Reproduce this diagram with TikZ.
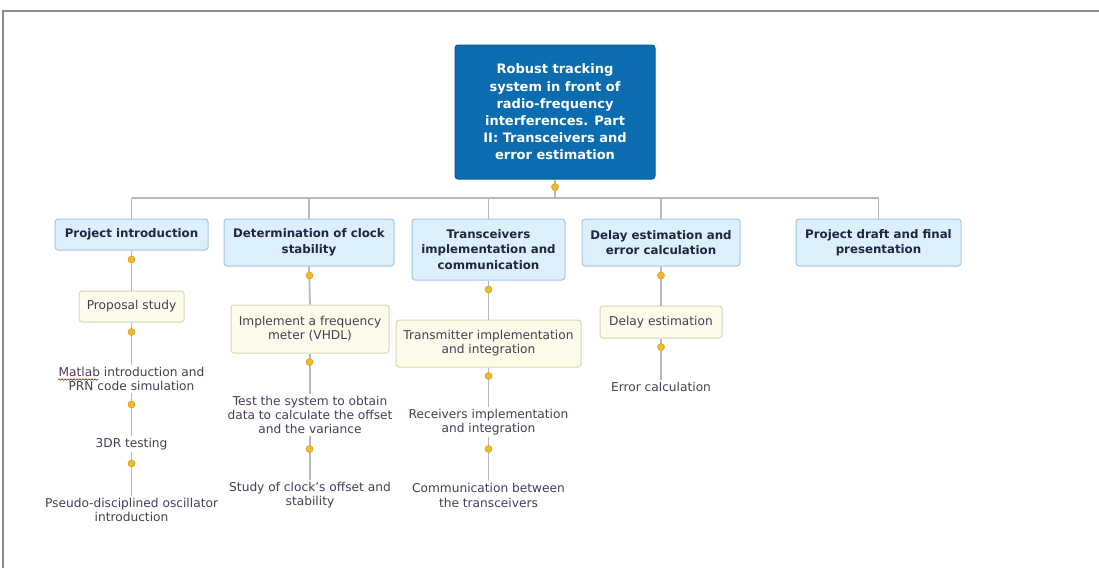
\documentclass[tikz,border=0pt]{standalone}
\usepackage{fontspec}
\setmainfont{DejaVu Sans}
\usetikzlibrary{decorations.pathmorphing}
\definecolor{rootblue}{HTML}{0B6DB0}
\definecolor{rootedge}{HTML}{0A5C96}
\definecolor{lonefill}{HTML}{DDEFFB}
\definecolor{loneedge}{HTML}{A3C6E4}
\definecolor{ltwofill}{HTML}{FDFBE9}
\definecolor{ltwoedge}{HTML}{DAD6B4}
\definecolor{linegray}{HTML}{B8B8B8}
\definecolor{framegray}{HTML}{8A8A8A}
\definecolor{lonetext}{HTML}{1E2640}
\definecolor{ltwotext}{HTML}{4A3C55}
\definecolor{dotfill}{HTML}{F2B928}
\definecolor{dotedge}{HTML}{D29A12}
\tikzset{
  rootbox/.style={draw=rootedge, fill=rootblue, rounded corners=3pt, line width=1pt,
    minimum width=200pt, minimum height=134pt, text=white, align=center,
    font=\fontsize{13}{17.2}\selectfont\bfseries, inner sep=0pt},
  lonebox/.style={draw=loneedge, fill=lonefill, rounded corners=3pt, line width=1pt,
    align=center, text=lonetext, font=\fontsize{11.8}{15.5}\selectfont\bfseries, inner sep=0pt},
  ltwobox/.style={draw=ltwoedge, fill=ltwofill, rounded corners=3pt, line width=1pt,
    align=center, text=ltwotext, font=\fontsize{12.2}{14.2}\selectfont, inner sep=0pt},
  ltwotxt/.style={align=center, text=ltwotext, font=\fontsize{12.2}{14.2}\selectfont, inner sep=2pt},
  conn/.style={draw=linegray, line width=1.8pt},
  ydot/.style={circle, fill=dotfill, draw=dotedge, line width=0.5pt, minimum size=7pt, inner sep=0pt},
}
\begin{document}
\begin{tikzpicture}[x=1pt,y=-1pt]
\useasboundingbox (0,0) rectangle (1099,568);
\fill[white] (0,0) rectangle (1099,568);
% frame
\draw[framegray, line width=1.8pt] (3,568) -- (3,11) -- (1099,11);

% root
\node[rootbox] (root) at (555,112) {Robust tracking\\system in front of\\radio-frequency\\interferences. Part\\II: Transceivers and\\error estimation};

% level one
\node[lonebox, minimum width=153pt, minimum height=31pt] (a) at (131.5,234.5) {Project introduction};
\node[lonebox, minimum width=170pt, minimum height=47pt] (b) at (309,242.5) {Determination of clock\\stability};
\node[lonebox, minimum width=153pt, minimum height=61pt] (c) at (488.5,249.5) {Transceivers\\implementation and\\communication};
\node[lonebox, minimum width=158pt, minimum height=47pt] (d) at (661,242.5) {Delay estimation and\\error calculation};
\node[lonebox, minimum width=165pt, minimum height=47pt] (e) at (878.5,242.5) {Project draft and final\\presentation};

% bus
\coordinate (bus) at (555,198);
\coordinate (ba) at (131.5,198);
\coordinate (bb) at (309,198);
\coordinate (bc) at (488.5,198);
\coordinate (bd) at (661,198);
\coordinate (be) at (878.5,198);
\draw[conn] (root.south) -- (bus);
\draw[conn] (ba) -- (be);
\draw[conn] (ba) -- (a.north);
\draw[conn] (bb) -- (b.north);
\draw[conn] (bc) -- (c.north);
\draw[conn] (bd) -- (d.north);
\draw[conn] (be) -- (e.north);

% column a
\node[ltwobox, minimum width=105pt, minimum height=31pt] (a1) at (131.5,306.5) {Proposal study};
\node[ltwotxt] (a2) at (131.5,379) {Matlab introduction and\\PRN code simulation};
\node[ltwotxt] (a3) at (131.5,444) {3DR testing};
\node[ltwotxt] (a4) at (131.5,510) {Pseudo-disciplined oscillator\\introduction};
% column b
\node[ltwobox, minimum width=158pt, minimum height=48pt] (b1) at (310,329) {Implement a frequency\\meter (VHDL)};
\node[ltwotxt] (b2) at (310,415) {Test the system to obtain\\data to calculate the offset\\and the variance};
\node[ltwotxt] (b3) at (310,495.5) {Study of clock's offset and\\stability};
% column c
\node[ltwobox, minimum width=185pt, minimum height=47pt] (c1) at (488.5,343.5) {Transmitter implementation\\and integration};
\node[ltwotxt] (c2) at (488.5,422) {Receivers implementation\\and integration};
\node[ltwotxt] (c3) at (488.5,495.5) {Communication between\\the transceivers};
% column d
\node[ltwobox, minimum width=122pt, minimum height=32pt] (d1) at (661,322) {Delay estimation};
\node[ltwotxt] (d2) at (661,386.5) {Error calculation};

% connectors
\draw[conn] (a.south) -- (a1.north);
\draw[conn] (a1.south) -- (a2.north);
\draw[conn] (a2.south) -- (a3.north);
\draw[conn] (a3.south) -- (a4.north);
\draw[conn] (b.south) -- (b1.north);
\draw[conn] (b1.south) -- (b2.north);
\draw[conn] (b2.south) -- (b3.north);
\draw[conn] (c.south) -- (c1.north);
\draw[conn] (c1.south) -- (c2.north);
\draw[conn] (c2.south) -- (c3.north);
\draw[conn] (d.south) -- (d1.north);
\draw[conn] (d1.south) -- (d2.north);

% dots
\node[ydot] (r0) at (555,187) {};
\node[ydot] (da0) at (131.5,259.5) {};
\node[ydot] (da1) at (131.5,332) {};
\node[ydot] (da2) at (131.5,404.5) {};
\node[ydot] (da3) at (131.5,463.5) {};
\node[ydot] (db0) at (309.5,275.5) {};
\node[ydot] (db1) at (309.5,362) {};
\node[ydot] (db2) at (309.5,449) {};
\node[ydot] (dc0) at (488.5,289.5) {};
\node[ydot] (dc1) at (488.5,376) {};
\node[ydot] (dc2) at (488.5,449) {};
\node[ydot] (dd0) at (661,275.5) {};
\node[ydot] (dd1) at (661,347) {};

% spell-check underline under "Matlab"
\draw[red!80!black, line width=0.6pt, decorate, decoration={snake, amplitude=0.7pt, segment length=3pt}] (58,379.5) -- (98,379.5);
\end{tikzpicture}
\end{document}
